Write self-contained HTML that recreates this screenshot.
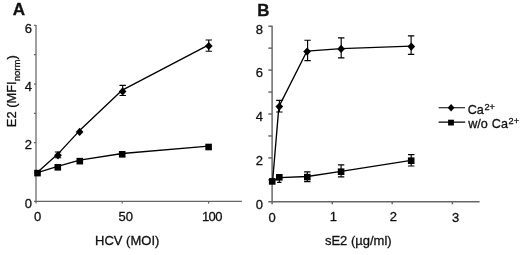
<!DOCTYPE html>
<html><head><meta charset="utf-8"><title>Figure</title>
<style>html,body{margin:0;padding:0;background:#fff;}svg{display:block;}text{font-family:"Liberation Sans",Arial,sans-serif;fill:#111;stroke:#111;stroke-width:0.3px;}</style></head><body>
<svg width="520" height="255" viewBox="0 0 520 255">
<rect width="520" height="255" fill="#fff"/>
<g stroke="#666" stroke-width="1.25" fill="none">
<path d="M36.0 25V203.6M34.0 201.4H241.9"/>
<path d="M34.0 172.07H36.0"/>
<path d="M34.0 142.73H36.0"/>
<path d="M34.0 113.40H36.0"/>
<path d="M34.0 84.07H36.0"/>
<path d="M34.0 54.73H36.0"/>
<path d="M34.0 25.40H36.0"/>
<path d="M122.2 201.4V203.6"/>
<path d="M208.6 201.4V203.6"/>
</g>
<g stroke="#666" stroke-width="1.45" fill="none">
<path d="M272.1 25.8V204.3M268.3 201.8H479.6"/>
<path d="M268.3 179.85H272.1"/>
<path d="M268.3 157.90H272.1"/>
<path d="M268.3 135.95H272.1"/>
<path d="M268.3 114.00H272.1"/>
<path d="M268.3 92.05H272.1"/>
<path d="M268.3 70.10H272.1"/>
<path d="M268.3 48.15H272.1"/>
<path d="M268.3 26.20H272.1"/>
<path d="M332.3 201.8V204.3"/>
<path d="M392.2 201.8V204.3"/>
<path d="M452.4 201.8V204.3"/>
</g>
<path d="M37.50 172.30L57.80 154.10L79.60 130.60L122.30 90.10L208.75 44.90" stroke="#000" stroke-width="1.35" fill="none" stroke-linejoin="round"/>
<path d="M37.50 172.60L57.70 166.40L79.70 160.20L122.30 153.50L208.60 146.20" stroke="#000" stroke-width="1.35" fill="none" stroke-linejoin="round"/>
<path d="M58.00 152.00V157.70M54.80 152.00H61.20M54.80 157.70H61.20" stroke="#000" stroke-width="1.15" fill="none"/>
<path d="M122.70 85.40V95.50M119.50 85.40H125.90M119.50 95.50H125.90" stroke="#000" stroke-width="1.15" fill="none"/>
<path d="M208.75 40.00V51.25M205.55 40.00H211.95M205.55 51.25H211.95" stroke="#000" stroke-width="1.15" fill="none"/>
<path d="M54.15 155.30L58.00 151.20L61.85 155.30L58.00 159.40Z" fill="#000"/>
<path d="M75.75 131.90L79.60 127.80L83.45 131.90L79.60 136.00Z" fill="#000"/>
<path d="M118.75 91.40L122.60 87.30L126.45 91.40L122.60 95.50Z" fill="#000"/>
<path d="M204.90 46.00L208.75 41.90L212.60 46.00L208.75 50.10Z" fill="#000"/>
<rect x="34.20" y="169.80" width="6.60" height="6.60" fill="#000"/>
<rect x="54.50" y="164.00" width="6.60" height="6.60" fill="#000"/>
<rect x="76.50" y="157.85" width="6.60" height="6.60" fill="#000"/>
<rect x="118.90" y="151.00" width="6.60" height="6.60" fill="#000"/>
<rect x="205.30" y="143.70" width="6.60" height="6.60" fill="#000"/>
<path d="M272.60 181.25L278.90 106.60L306.90 51.20L341.20 48.70L411.10 46.20" stroke="#000" stroke-width="1.35" fill="none" stroke-linejoin="round"/>
<path d="M272.40 181.30L279.30 177.60L307.30 176.50L341.10 171.40L411.20 160.30" stroke="#000" stroke-width="1.35" fill="none" stroke-linejoin="round"/>
<path d="M279.40 100.30V112.00M276.20 100.30H282.60M276.20 112.00H282.60" stroke="#000" stroke-width="1.15" fill="none"/>
<path d="M307.60 40.20V60.60M304.40 40.20H310.80M304.40 60.60H310.80" stroke="#000" stroke-width="1.15" fill="none"/>
<path d="M341.20 37.80V57.80M338.00 37.80H344.40M338.00 57.80H344.40" stroke="#000" stroke-width="1.15" fill="none"/>
<path d="M411.10 35.90V54.40M407.90 35.90H414.30M407.90 54.40H414.30" stroke="#000" stroke-width="1.15" fill="none"/>
<path d="M279.30 174.50V182.40M277.10 174.50H281.50M277.10 182.40H281.50" stroke="#000" stroke-width="1.15" fill="none"/>
<path d="M307.30 171.90V181.60M304.10 171.90H310.50M304.10 181.60H310.50" stroke="#000" stroke-width="1.15" fill="none"/>
<path d="M341.10 164.90V176.80M337.90 164.90H344.30M337.90 176.80H344.30" stroke="#000" stroke-width="1.15" fill="none"/>
<path d="M411.20 154.60V166.00M408.00 154.60H414.40M408.00 166.00H414.40" stroke="#000" stroke-width="1.15" fill="none"/>
<path d="M275.45 106.60L279.30 102.50L283.15 106.60L279.30 110.70Z" fill="#000"/>
<path d="M303.25 51.60L307.10 47.50L310.95 51.60L307.10 55.70Z" fill="#000"/>
<path d="M337.25 48.90L341.10 44.80L344.95 48.90L341.10 53.00Z" fill="#000"/>
<path d="M407.45 46.60L411.30 42.50L415.15 46.60L411.30 50.70Z" fill="#000"/>
<rect x="268.90" y="178.10" width="6.60" height="6.60" fill="#000"/>
<rect x="276.00" y="174.00" width="6.60" height="6.60" fill="#000"/>
<rect x="304.00" y="173.80" width="6.60" height="6.60" fill="#000"/>
<rect x="337.80" y="168.40" width="6.60" height="6.60" fill="#000"/>
<rect x="407.90" y="157.40" width="6.60" height="6.60" fill="#000"/>
<path d="M438.6 107.7H465M438.6 122.05H465.2" stroke="#000" stroke-width="1.15"/>
<path d="M447.70 107.70L451.10 103.90L454.50 107.70L451.10 111.50Z" fill="#000"/>
<rect x="448.10" y="119.70" width="5.80" height="5.80" fill="#000"/>
<text x="467.7" y="113.75" font-size="12.6">Ca<tspan font-size="9.2" dy="-3.8" dx="0.7">2+</tspan></text>
<text x="468.2" y="128" font-size="12.6" word-spacing="0.5">w/o Ca<tspan font-size="9.2" dy="-3.8" dx="0.7">2+</tspan></text>
<text x="12.8" y="15.4" font-size="17.1" font-weight="bold">A</text>
<text x="257.2" y="15.5" font-size="16.9" font-weight="bold">B</text>
<g font-size="13" text-anchor="end">
<text x="32.1" y="33">6</text>
<text x="32.1" y="91.1">4</text>
<text x="32.1" y="149.4">2</text>
<text x="32.1" y="208.2">0</text>
<text x="263" y="33.5">8</text>
<text x="263" y="77.1">6</text>
<text x="263" y="121.25">4</text>
<text x="263" y="165.3">2</text>
<text x="263" y="209.25">0</text>
</g>
<g font-size="13" text-anchor="middle">
<text x="37.5" y="221.3">0</text>
<text x="125.8" y="221.3">50</text>
<text x="202.1" y="221.3" letter-spacing="-0.7" text-anchor="start">100</text>
<text x="272.1" y="221.6">0</text>
<text x="333.3" y="221.2">1</text>
<text x="393.4" y="221.3">2</text>
<text x="455.6" y="221.8">3</text>
<text x="127.2" y="245.1">HCV (MOI)</text>
<text x="358.3" y="245.2">sE2 (µg/ml)</text>
<text transform="translate(16.4 91.2) rotate(-90)" font-size="12.9">E2 (MFI<tspan font-size="9.6" dy="3.6">norm</tspan><tspan dy="-3.6">)</tspan></text>
</g>
</svg></body></html>
